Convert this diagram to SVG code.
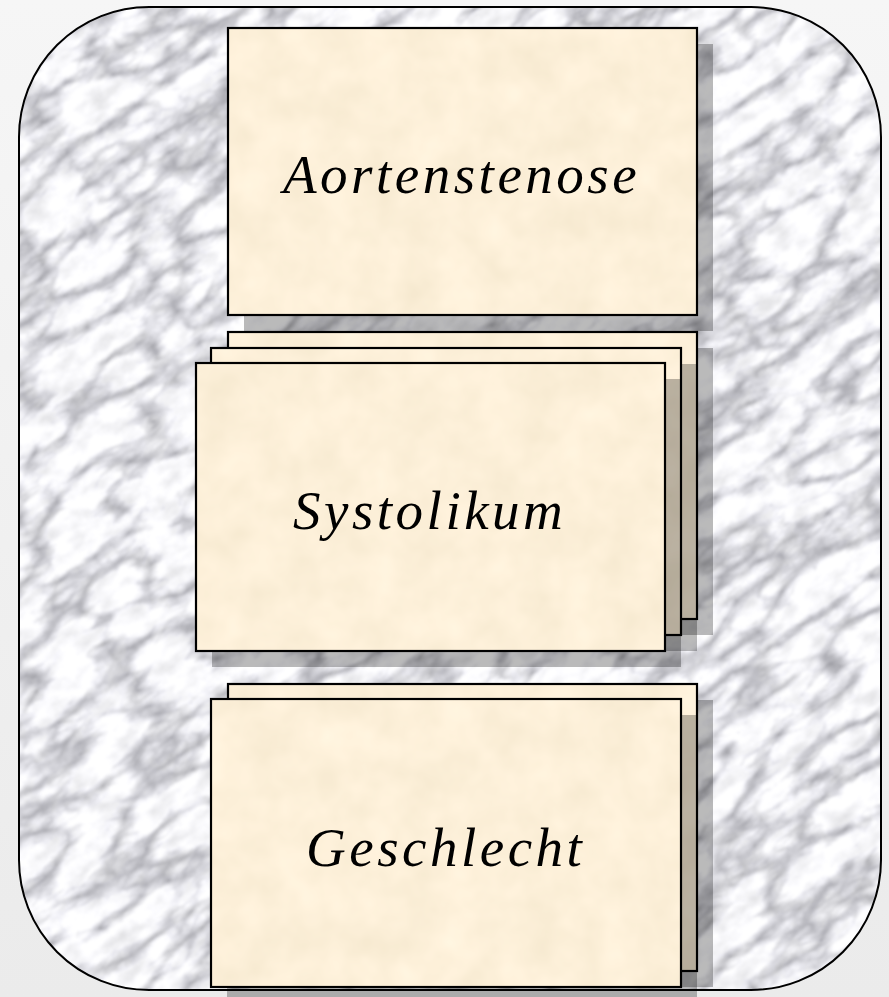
<svg xmlns="http://www.w3.org/2000/svg" width="889" height="997" viewBox="0 0 889 997">
  <defs>
    <linearGradient id="page" x1="0" y1="0" x2="0" y2="1">
      <stop offset="0" stop-color="#f6f6f6"/>
      <stop offset="1" stop-color="#ebebeb"/>
    </linearGradient>
    <clipPath id="frameClip">
      <rect x="19" y="7" width="862" height="983" rx="130" ry="130"/>
    </clipPath>
    <!-- soft grey-veined white marble -->
    <filter id="marble" x="0" y="0" width="100%" height="100%" color-interpolation-filters="sRGB">
      <feTurbulence type="turbulence" baseFrequency="0.012 0.026" numOctaves="5" seed="11" result="t"/>
      <feColorMatrix in="t" type="matrix" values="0.85 0 0 0 0.67  0.85 0 0 0 0.67  0.83 0 0 0 0.69  0 0 0 0 1" result="veins"/>
      <feTurbulence type="fractalNoise" baseFrequency="0.035 0.06" numOctaves="4" seed="5" result="n"/>
      <feColorMatrix in="n" type="matrix" values="0.25 0 0 0 0.86  0.25 0 0 0 0.86  0.25 0 0 0 0.87  0 0 0 0 1" result="mottle"/>
      <feBlend in="veins" in2="mottle" mode="multiply"/>
      <feGaussianBlur stdDeviation="1"/>
    </filter>
    <!-- faint parchment grain for the cards -->
    <filter id="paper" x="0" y="0" width="100%" height="100%" color-interpolation-filters="sRGB">
      <feTurbulence type="fractalNoise" baseFrequency="0.025" numOctaves="3" seed="4" result="n"/>
      <feColorMatrix in="n" type="matrix" values="0.06 0 0 0 0.96  0.06 0 0 0 0.91  0.08 0 0 0 0.81  0 0 0 0 1" result="tone"/>
      <feComposite in="tone" in2="SourceGraphic" operator="in"/>
    </filter>
  </defs>
  <style>
    .frame { fill: none; stroke: #000; stroke-width: 2; }
    .shadow { fill: #000; fill-opacity: 0.27; }
    .paper { fill: #fdf1d6; filter: url(#paper); }
    .edge { fill: none; stroke: #000; stroke-width: 2.2; }
    .label { font-family: "Liberation Serif", "Times New Roman", serif; font-style: italic; font-size: 55px; letter-spacing: 3.5px; fill: #000; }
  </style>

  <!-- page background and marble panel -->
  <rect x="0" y="0" width="889" height="997" fill="url(#page)"/>
  <g clip-path="url(#frameClip)">
    <rect x="-400" y="-300" width="1700" height="1600" filter="url(#marble)" transform="rotate(-35 444 498)"/>
  </g>
  <rect class="frame" x="19" y="7" width="862" height="983" rx="130" ry="130"/>

  <g id="connectors"/>

  <!-- single card -->
  <g id="aortenstenose">
    <rect class="shadow" x="244" y="44" width="469" height="287"/>
    <rect class="paper" x="228" y="28" width="469" height="287"/>
    <rect class="edge" x="228" y="28" width="469" height="287"/>
    <text class="label" x="283" y="193">Aortenstenose</text>
  </g>

  <!-- stack of three cards -->
  <g id="systolikum">
    <rect class="shadow" x="244" y="348" width="469" height="287"/>
    <rect class="paper" x="228" y="332" width="469" height="287"/>
    <rect class="edge" x="228" y="332" width="469" height="287"/>
    <rect class="shadow" x="227" y="364" width="470" height="287"/>
    <rect class="paper" x="211" y="348" width="470" height="287"/>
    <rect class="edge" x="211" y="348" width="470" height="287"/>
    <rect class="shadow" x="212" y="379" width="469" height="288"/>
    <rect class="paper" x="196" y="363" width="469" height="288"/>
    <rect class="edge" x="196" y="363" width="469" height="288"/>
    <text class="label" x="293" y="529">Systolikum</text>
  </g>

  <!-- stack of two cards -->
  <g id="geschlecht">
    <rect class="shadow" x="244" y="700" width="469" height="287"/>
    <rect class="paper" x="228" y="684" width="469" height="287"/>
    <rect class="edge" x="228" y="684" width="469" height="287"/>
    <rect class="shadow" x="227" y="715" width="470" height="288"/>
    <rect class="paper" x="211" y="699" width="470" height="288"/>
    <rect class="edge" x="211" y="699" width="470" height="288"/>
    <text class="label" x="306" y="866">Geschlecht</text>
  </g>
</svg>
